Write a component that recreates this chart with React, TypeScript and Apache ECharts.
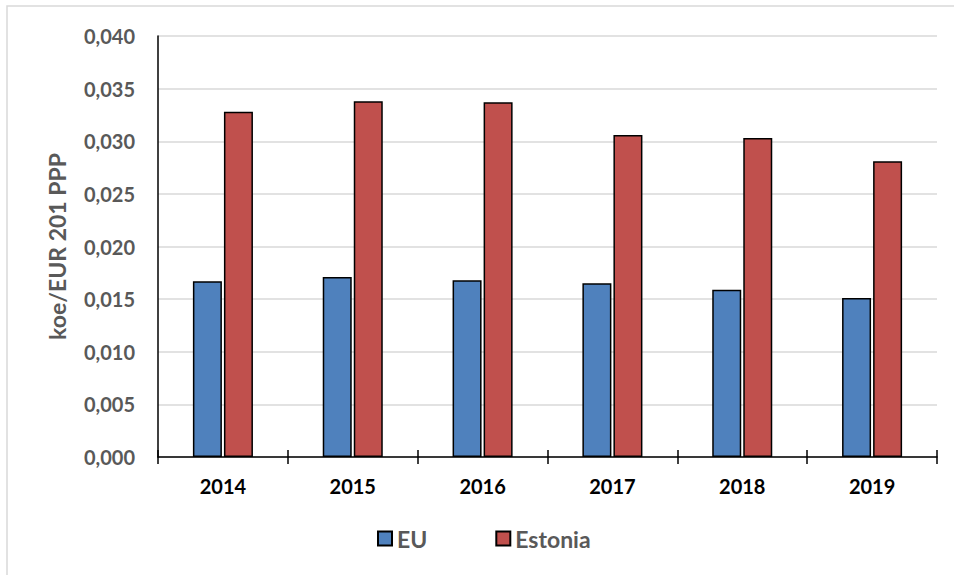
import React, { useEffect, useRef } from "react";
import * as echarts from "echarts";

const years = ["2014", "2015", "2016", "2017", "2018", "2019"];
const euValues = [0.0167, 0.0171, 0.0168, 0.0165, 0.0159, 0.0151];
const estoniaValues = [0.0328, 0.0338, 0.0337, 0.0306, 0.0303, 0.0281];
const yAxisTitle = "koe/EUR 201 PPP";

const FONT = "Lato";

export default function App() {
  const ref = useRef<HTMLDivElement>(null);
  useEffect(() => {
    const chart = echarts.init(ref.current!, null, { renderer: "svg" });
    chart.setOption({
      animation: false,
      backgroundColor: "#ffffff",
      graphic: [
        {
          type: "rect",
          shape: { x: 7, y: 6, width: 1000, height: 700 },
          style: { fill: "none", stroke: "#d9d9d9", lineWidth: 1.5 },
          silent: true,
          z: -1,
        },
      ],
      legend: {
        left: 372,
        top: 522,
        itemWidth: 14,
        itemHeight: 14,
        itemGap: 68,
        icon: "rect",
        textStyle: { fontFamily: FONT, fontWeight: "bold", fontSize: 23, color: "#595959" },
        data: ["EU", "Estonia"],
      },
      grid: { left: 158, right: 17, top: 36, bottom: 118, containLabel: false },
      xAxis: [
        {
          type: "category",
          data: years,
          axisLine: { lineStyle: { color: "#000000", width: 1.5 } },
          axisTick: { show: true, length: 7, lineStyle: { color: "#000000", width: 1.5 } },
          axisLabel: { margin: 19, fontFamily: FONT, fontWeight: "bold", fontSize: 20, color: "#000000" },
        },
        {
          type: "category",
          data: years,
          position: "bottom",
          axisLine: { show: false },
          axisTick: { show: true, inside: true, length: 7, lineStyle: { color: "#000000", width: 1.5 } },
          axisLabel: { show: false },
        },
      ],
      yAxis: {
        type: "value",
        min: 0,
        max: 0.04,
        interval: 0.005,
        name: yAxisTitle,
        nameLocation: "middle",
        nameGap: 90,
        nameTextStyle: { fontFamily: FONT, fontWeight: "bold", fontSize: 23, color: "#595959" },
        axisLine: { show: true, lineStyle: { color: "#000000", width: 1.5 } },
        axisTick: { show: false },
        splitLine: { lineStyle: { color: "#d9d9d9", width: 1.5 } },
        axisLabel: {
          margin: 23,
          fontFamily: FONT,
          fontWeight: "bold",
          fontSize: 20,
          color: "#595959",
          formatter: (v: number) => v.toFixed(3).replace(".", ","),
        },
      },
      series: [
        {
          name: "EU",
          type: "bar",
          data: euValues,
          barWidth: 29,
          barGap: "7%",
          itemStyle: { color: "#4f81bd", borderColor: "#000000", borderWidth: 1.5 },
        },
        {
          name: "Estonia",
          type: "bar",
          data: estoniaValues,
          barWidth: 29,
          barGap: "7%",
          itemStyle: { color: "#c0504d", borderColor: "#000000", borderWidth: 1.5 },
        },
      ],
    });
    return () => chart.dispose();
  }, []);
  return <div ref={ref} style={{ width: 954, height: 575, position: "absolute", left: 0, top: 0 }} />;
}
